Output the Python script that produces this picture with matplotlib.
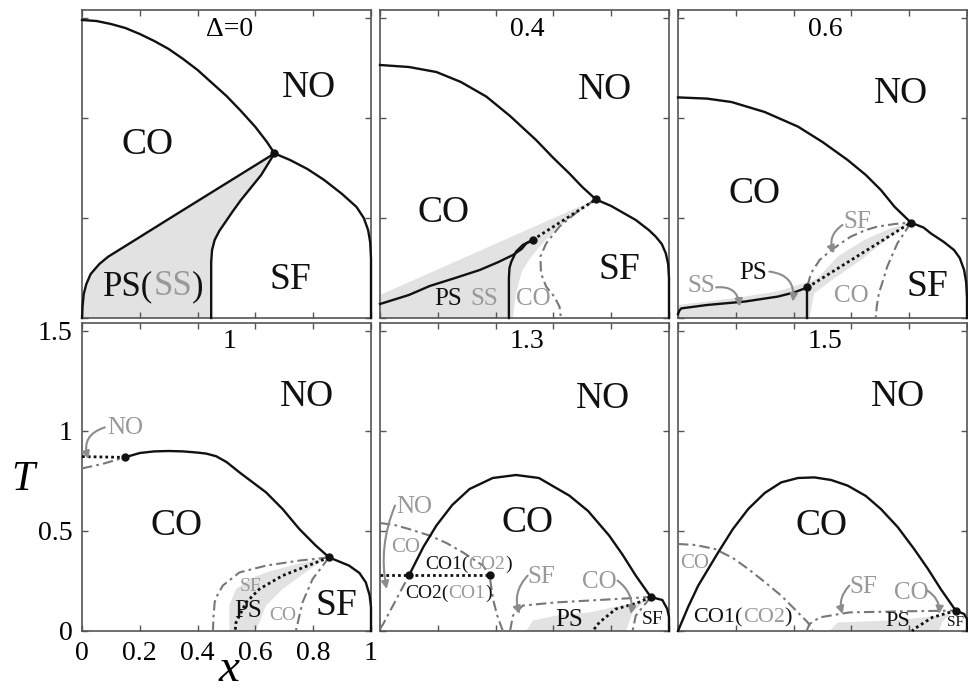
import numpy as np
import matplotlib.pyplot as plt

plt.rcParams['font.family'] = ['Liberation Serif', 'DejaVu Serif']

# ---- data: (x, T) pairs ----
# Delta = 0
d0_co_no = [(0, 1.49), (0.05, 1.485), (0.1, 1.47), (0.15, 1.45), (0.2, 1.42), (0.25, 1.385),
            (0.3, 1.345), (0.35, 1.295), (0.4, 1.24), (0.45, 1.175), (0.5, 1.11), (0.55, 1.035),
            (0.6, 0.955), (0.64, 0.88), (0.666, 0.823)]
d0_no_sf = [(0.666, 0.823), (0.72, 0.79), (0.78, 0.745), (0.838, 0.69), (0.9, 0.62), (0.95, 0.555),
            (0.975, 0.5), (0.99, 0.44), (0.997, 0.38), (1.0, 0.3), (1.0, 0)]
d0_co_ps = [(0, 0), (0.002, 0.06), (0.006, 0.12), (0.015, 0.17), (0.03, 0.22), (0.06, 0.27),
            (0.091, 0.307), (0.148, 0.358), (0.32, 0.513), (0.493, 0.668), (0.666, 0.823)]
d0_ps_sf = [(0.447, 0), (0.447, 0.28), (0.45, 0.34), (0.459, 0.39), (0.475, 0.435), (0.493, 0.473),
            (0.52, 0.53), (0.55, 0.59), (0.62, 0.715), (0.666, 0.823)]
d0_pt = (0.666, 0.823)

# Delta = 0.4
d1_co_no = [(0, 1.265), (0.1, 1.255), (0.195, 1.23), (0.28, 1.18), (0.368, 1.107), (0.45, 1.01),
            (0.54, 0.89), (0.6, 0.8), (0.655, 0.723), (0.7, 0.655), (0.747, 0.593)]
d1_no_sf = [(0.747, 0.593), (0.8, 0.56), (0.885, 0.49), (0.93, 0.44), (0.954, 0.407), (0.975, 0.37),
            (0.989, 0.323), (0.997, 0.27), (1.0, 0.2), (1.0, 0)]
d1_ps = [(0, 0.07), (0.1, 0.115), (0.172, 0.16), (0.26, 0.2), (0.345, 0.24), (0.41, 0.28),
         (0.46, 0.315), (0.49, 0.345), (0.506, 0.373), (0.528, 0.39)]
d1_ps_sf = [(0.446, 0), (0.446, 0.2), (0.448, 0.25), (0.454, 0.28), (0.471, 0.332), (0.494, 0.365),
            (0.528, 0.39)]
d1_dotted = [(0.528, 0.39), (0.747, 0.593)]
d1_dashdot = [(0.747, 0.593), (0.69, 0.54), (0.621, 0.457), (0.575, 0.373), (0.555, 0.307),
              (0.557, 0.223), (0.575, 0.157), (0.603, 0.107), (0.621, 0.057), (0.626, 0)]
d1_shade = [(0, 0), (0, 0.115), (0.747, 0.593), (0.64, 0.48), (0.56, 0.37), (0.52, 0.3),
            (0.49, 0.23), (0.47, 0.12), (0.46, 0)]
d1_pts = [(0.528, 0.39), (0.747, 0.593)]

# Delta = 0.6
d2_co_no = [(0, 1.103), (0.1, 1.097), (0.185, 1.08), (0.3, 1.03), (0.415, 0.957), (0.5, 0.88),
            (0.587, 0.79), (0.65, 0.715), (0.702, 0.64), (0.75, 0.555), (0.806, 0.477)]
d2_no_sf = [(0.806, 0.477), (0.85, 0.452), (0.875, 0.423), (0.92, 0.38), (0.955, 0.34), (0.975, 0.3),
            (0.99, 0.24), (0.997, 0.18), (1.0, 0.1), (1.0, 0)]
d2_ps = [(0, 0.02), (0.004, 0.035), (0.011, 0.048), (0.1, 0.065), (0.23, 0.082), (0.345, 0.107),
         (0.4, 0.127), (0.448, 0.153)]
d2_vert = [(0.448, 0.153), (0.448, 0)]
d2_dotted = [(0.448, 0.153), (0.806, 0.477)]
d2_dd_sf = [(0.448, 0.16), (0.46, 0.223), (0.49, 0.29), (0.517, 0.323), (0.55, 0.36), (0.598, 0.407),
            (0.65, 0.44), (0.69, 0.457), (0.75, 0.47), (0.806, 0.477)]
d2_dd_co = [(0.806, 0.477), (0.785, 0.43), (0.759, 0.373), (0.74, 0.31), (0.724, 0.257), (0.71, 0.19),
            (0.695, 0.123), (0.688, 0.06), (0.684, 0)]
d2_shade = [(0, 0), (0, 0.065), (0.2, 0.1), (0.35, 0.135), (0.437, 0.175), (0.483, 0.198),
            (0.552, 0.307), (0.644, 0.39), (0.736, 0.448), (0.806, 0.477), (0.736, 0.407),
            (0.632, 0.29), (0.517, 0.173), (0.471, 0.123), (0.455, 0)]
d2_pts = [(0.448, 0.153), (0.806, 0.477)]

# Delta = 1
d3_co_no = [(0.148, 0.868), (0.2, 0.89), (0.25, 0.898), (0.3, 0.9), (0.35, 0.898), (0.4, 0.892),
            (0.43, 0.887), (0.464, 0.874), (0.5, 0.845), (0.545, 0.793), (0.637, 0.693), (0.694, 0.61),
            (0.752, 0.51), (0.809, 0.427), (0.855, 0.368)]
d3_no_sf = [(0.855, 0.368), (0.924, 0.327), (0.96, 0.29), (0.982, 0.243), (0.995, 0.18), (1.0, 0.12),
            (1.0, 0)]
d3_dotted_left = [(0, 0.872), (0.148, 0.868)]
d3_dd_left = [(0, 0.813), (0.07, 0.835), (0.148, 0.868)]
d3_dd_outer = [(0.855, 0.368), (0.752, 0.352), (0.637, 0.327), (0.545, 0.293), (0.487, 0.227),
               (0.465, 0.17), (0.459, 0.143), (0.455, 0.07), (0.453, 0)]
d3_dotted = [(0.855, 0.368), (0.694, 0.277), (0.614, 0.21), (0.568, 0.143), (0.533, 0.043), (0.53, 0)]
d3_dd_right = [(0.855, 0.368), (0.798, 0.26), (0.763, 0.143), (0.74, 0)]
d3_shade = [(0.51, 0), (0.51, 0.13), (0.533, 0.21), (0.58, 0.26), (0.637, 0.293), (0.752, 0.338),
            (0.845, 0.365), (0.78, 0.3), (0.694, 0.21), (0.637, 0.127), (0.614, 0.043), (0.6, 0)]
d3_pts = [(0.148, 0.868), (0.855, 0.368)]

# Delta = 1.3
d4_co_no = [(0.101, 0.28), (0.15, 0.42), (0.195, 0.527), (0.25, 0.63), (0.31, 0.71), (0.39, 0.765),
            (0.471, 0.78), (0.55, 0.765), (0.655, 0.677), (0.72, 0.6), (0.793, 0.477), (0.84, 0.38),
            (0.885, 0.277), (0.937, 0.17)]
d4_no_sf = [(0.937, 0.17), (0.977, 0.155), (0.994, 0.11), (1.0, 0.07), (1.0, 0)]
d4_dotted_h = [(0, 0.28), (0.379, 0.28)]
d4_dd_top = [(0, 0.54), (0.05, 0.53), (0.1, 0.51), (0.172, 0.477), (0.23, 0.44), (0.287, 0.393),
             (0.356, 0.327), (0.379, 0.28), (0.391, 0.16), (0.405, 0.08), (0.425, 0)]
d4_dd_left = [(0.0, 0.01), (0.011, 0.035), (0.057, 0.16), (0.101, 0.28)]
d4_dd_low = [(0.45, 0), (0.46, 0.077), (0.494, 0.127), (0.609, 0.143), (0.782, 0.157), (0.937, 0.17)]
d4_dotted = [(0.937, 0.17), (0.89, 0.14), (0.816, 0.11), (0.759, 0.043), (0.736, 0)]
d4_dd_right = [(0.937, 0.17), (0.885, 0.077), (0.874, 0)]
d4_shade = [(0.506, 0), (0.529, 0.052), (0.609, 0.077), (0.724, 0.093), (0.862, 0.135), (0.92, 0.155),
            (0.874, 0.093), (0.851, 0)]
d4_pts = [(0.101, 0.28), (0.379, 0.28), (0.937, 0.17)]

# Delta = 1.5
d5_co_no = [(0, 0), (0.035, 0.12), (0.07, 0.227), (0.139, 0.393), (0.19, 0.51), (0.243, 0.61),
            (0.3, 0.69), (0.357, 0.743), (0.415, 0.765), (0.472, 0.768), (0.53, 0.755), (0.587, 0.727),
            (0.65, 0.675), (0.702, 0.61), (0.76, 0.52), (0.817, 0.41), (0.865, 0.31), (0.909, 0.21),
            (0.961, 0.102)]
d5_no_sf = [(0.961, 0.102), (0.99, 0.085), (1.0, 0.06), (1.0, 0)]
d5_dd_co = [(0, 0.435), (0.06, 0.43), (0.128, 0.41), (0.19, 0.365), (0.243, 0.31), (0.3, 0.245),
            (0.357, 0.177), (0.41, 0.1), (0.449, 0.043), (0.467, 0)]
d5_dd_low = [(0.445, 0), (0.455, 0.035), (0.49, 0.068), (0.593, 0.093), (0.766, 0.098), (0.961, 0.102)]
d5_dotted = [(0.961, 0.102), (0.88, 0.068), (0.817, 0.01), (0.81, 0)]
d5_shade = [(0.524, 0), (0.552, 0.042), (0.766, 0.055), (0.903, 0.077), (0.95, 0.095), (0.915, 0.047),
            (0.903, 0)]
d5_pts = [(0.961, 0.102)]

panel_titles = ['\u0394=0', '0.4', '0.6', '1', '1.3', '1.5']
x_ticks = [0, 0.2, 0.4, 0.6, 0.8, 1]
x_ticklabels = ['0', '0.2', '0.4', '0.6', '0.8', '1']
y_ticks = [0, 0.5, 1, 1.5]
y_ticklabels = ['0', '0.5', '1', '1.5']

BLACK = '#111111'
GLINE = '#777777'
GTXT = '#999999'
GFILL = '#e2e2e2'
BIG = 27


def xy(pts):
    a = np.array(pts, dtype=float)
    return a[:, 0], a[:, 1]


def solid(ax, pts):
    ax.plot(*xy(pts), color=BLACK, lw=1.7, clip_on=False, zorder=4)


def dotted(ax, pts):
    ax.plot(*xy(pts), color=BLACK, lw=2.0, ls=(0, (1, 1.1)), clip_on=False, zorder=4)


def dashdot(ax, pts):
    ax.plot(*xy(pts), color=GLINE, lw=1.5, ls=(0, (5, 2, 1.3, 2)), clip_on=False, zorder=3)


def shade(ax, pts):
    ax.fill(*xy(pts), color=GFILL, lw=0, zorder=1)


def dots(ax, pts):
    x, y = xy(pts)
    ax.plot(x, y, 'o', color=BLACK, ms=5, clip_on=False, zorder=5)


def label(ax, x, y, s, fs=BIG, color=BLACK):
    ax.text(x, y, s, fontsize=fs, color=color, ha='center', va='center', zorder=6)


def arrow(ax, start, tip, rad):
    ax.annotate('', xy=tip, xytext=start,
                arrowprops=dict(arrowstyle='-|>', color='#8c8c8c', lw=1.5, mutation_scale=11,
                                shrinkA=0, shrinkB=0, connectionstyle='arc3,rad=%s' % rad), zorder=6)


def rainbow(ax, x, y, parts, fs):
    t = ax.text(x, y, parts[0][0], color=parts[0][1], fontsize=fs, ha='left', va='baseline', zorder=6)
    for s, c in parts[1:]:
        t = ax.annotate(s, xy=(1, 0), xycoords=t, va='bottom', ha='left', color=c, fontsize=fs, zorder=6)


fig = plt.figure(figsize=(9.68, 6.91), dpi=100)
W, H = 968, 691
lefts = [82, 380, 678]
tops = [10, 323]
axes = []
for r in range(2):
    for c in range(3):
        ax = fig.add_axes([lefts[c] / W, 1 - (tops[r] + 308) / H, 289 / W, 308 / H])
        ax.set_xlim(0, 1)
        ax.set_ylim(0, 1.54)
        ax.set_xticks(x_ticks)
        ax.set_yticks(y_ticks)
        ax.tick_params(direction='in', top=True, right=True, length=4, width=1, color='#555555',
                       labelsize=20, labelbottom=False, labelleft=False, pad=7)
        for sp in ax.spines.values():
            sp.set_color('#555555')
            sp.set_linewidth(1.2)
        axes.append(ax)

axes[3].tick_params(labelbottom=True, labelleft=True)
axes[3].set_xticklabels(x_ticklabels)
axes[3].set_yticklabels(y_ticklabels)

for ax, t in zip(axes, panel_titles):
    ax.text(0.51, 1.445, t, fontsize=20, ha='center', va='center')

# Delta = 0
ax = axes[0]
shade(ax, d0_co_ps + d0_ps_sf[::-1])
solid(ax, d0_co_no)
solid(ax, d0_no_sf)
solid(ax, d0_co_ps)
solid(ax, d0_ps_sf)
dots(ax, [d0_pt])
label(ax, 0.786, 1.15, 'NO')
label(ax, 0.228, 0.865, 'CO')
label(ax, 0.72, 0.19, 'SF')
rainbow(ax, 0.073, 0.115, [('PS(', BLACK), ('SS', GTXT), (')', BLACK)], 25)

# Delta = 0.4
ax = axes[1]
shade(ax, d1_shade)
solid(ax, d1_co_no)
solid(ax, d1_no_sf)
solid(ax, d1_ps)
solid(ax, d1_ps_sf)
dotted(ax, d1_dotted)
dashdot(ax, d1_dashdot)
dots(ax, d1_pts)
label(ax, 0.78, 1.14, 'NO')
label(ax, 0.218, 0.525, 'CO')
label(ax, 0.83, 0.24, 'SF')
label(ax, 0.235, 0.095, 'PS', 18)
label(ax, 0.362, 0.095, 'SS', 18, GTXT)
label(ax, 0.531, 0.095, 'CO', 18, GTXT)

# Delta = 0.6
ax = axes[2]
shade(ax, d2_shade)
solid(ax, d2_co_no)
solid(ax, d2_no_sf)
solid(ax, d2_ps)
solid(ax, d2_vert)
dotted(ax, d2_dotted)
dashdot(ax, d2_dd_sf)
dashdot(ax, d2_dd_co)
dots(ax, d2_pts)
label(ax, 0.771, 1.12, 'NO')
label(ax, 0.266, 0.62, 'CO')
label(ax, 0.863, 0.157, 'SF')
label(ax, 0.6, 0.11, 'CO', 18, GTXT)
label(ax, 0.261, 0.227, 'PS', 18)
label(ax, 0.08, 0.16, 'SS', 18, GTXT)
label(ax, 0.621, 0.478, 'SF', 18, GTXT)
arrow(ax, (0.132, 0.153), (0.213, 0.057), -0.5)
arrow(ax, (0.316, 0.232), (0.397, 0.082), -0.5)
arrow(ax, (0.569, 0.465), (0.54, 0.323), 0.4)

# Delta = 1
ax = axes[3]
shade(ax, d3_shade)
solid(ax, d3_co_no)
solid(ax, d3_no_sf)
dotted(ax, d3_dotted_left)
dashdot(ax, d3_dd_left)
dashdot(ax, d3_dd_outer)
dotted(ax, d3_dotted)
dashdot(ax, d3_dd_right)
dots(ax, d3_pts)
label(ax, 0.78, 1.17, 'NO')
label(ax, 0.326, 0.527, 'CO')
label(ax, 0.881, 0.127, 'SF')
label(ax, 0.576, 0.1, 'PS', 18)
label(ax, 0.585, 0.222, 'SF', 14, GTXT)
label(ax, 0.693, 0.077, 'CO', 14, GTXT)
label(ax, 0.148, 1.015, 'NO', 18, GTXT)
arrow(ax, (0.079, 1.018), (0.022, 0.86), 0.5)

# Delta = 1.3
ax = axes[4]
shade(ax, d4_shade)
solid(ax, d4_co_no)
solid(ax, d4_no_sf)
dotted(ax, d4_dotted_h)
dashdot(ax, d4_dd_top)
dashdot(ax, d4_dd_left)
dashdot(ax, d4_dd_low)
dotted(ax, d4_dotted)
dashdot(ax, d4_dd_right)
dots(ax, d4_pts)
label(ax, 0.77, 1.16, 'NO')
label(ax, 0.511, 0.543, 'CO')
rainbow(ax, 0.155, 0.31, [('CO1(', BLACK), ('CO2', GTXT), (')', BLACK)], 14)
rainbow(ax, 0.086, 0.163, [('CO2(', BLACK), ('CO1', GTXT), (')', BLACK)], 14)
label(ax, 0.118, 0.618, 'NO', 18, GTXT)
label(ax, 0.089, 0.418, 'CO', 15, GTXT)
label(ax, 0.557, 0.268, 'SF', 18, GTXT)
label(ax, 0.759, 0.243, 'CO', 18, GTXT)
label(ax, 0.655, 0.055, 'PS', 18)
label(ax, 0.943, 0.055, 'SF', 14)
arrow(ax, (0.052, 0.627), (0.023, 0.21), 0.15)
arrow(ax, (0.511, 0.277), (0.483, 0.085), 0.3)
arrow(ax, (0.822, 0.252), (0.868, 0.085), -0.3)

# Delta = 1.5
ax = axes[5]
shade(ax, d5_shade)
solid(ax, d5_co_no)
solid(ax, d5_no_sf)
dashdot(ax, d5_dd_co)
dashdot(ax, d5_dd_low)
dotted(ax, d5_dotted)
dots(ax, d5_pts)
label(ax, 0.76, 1.17, 'NO')
label(ax, 0.495, 0.527, 'CO')
label(ax, 0.059, 0.34, 'CO', 15, GTXT)
rainbow(ax, 0.053, 0.043, [('CO1(', BLACK), ('CO2', GTXT), (')', BLACK)], 16)
label(ax, 0.642, 0.218, 'SF', 18, GTXT)
label(ax, 0.806, 0.19, 'CO', 18, GTXT)
label(ax, 0.76, 0.048, 'PS', 16)
label(ax, 0.961, 0.04, 'SF', 11)
arrow(ax, (0.593, 0.227), (0.57, 0.085), 0.3)
arrow(ax, (0.863, 0.202), (0.903, 0.085), -0.3)

fig.text(22.5 / W, 1 - 480 / H, 'T', fontsize=30, style='italic', ha='center', va='center')
fig.text(229 / W, 1 - 670 / H, 'x', fontsize=34, style='italic', ha='center', va='center')

fig.savefig('out.png', dpi=100)
